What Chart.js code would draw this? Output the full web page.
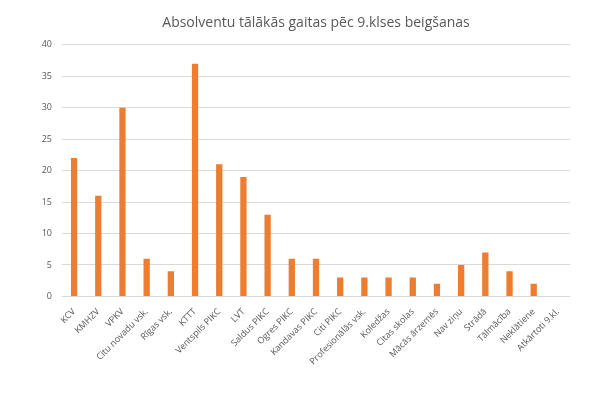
<!DOCTYPE html>
<html>
<head>
<meta charset="utf-8">
<script src="https://cdn.jsdelivr.net/npm/chart.js@4"></script>
<style>
  html, body { margin: 0; padding: 0; background: #fff; }
  #wrap { width: 600px; height: 401px; }
</style>
</head>
<body>
<div id="wrap"><canvas id="gaitas"></canvas></div>
<script>
const categories = ['KCV', 'KMHZV', 'VPKV', 'Citu novadu vsk.', 'Rīgas vsk.', 'KTTT', 'Ventspils PIKC', 'LVT',
  'Saldus PIKC', 'Ogres PIKC', 'Kandavas PIKC', 'Citi PIKC', 'Profesionālās vsk.', 'Koledžas', 'Citas skolas',
  'Mācās ārzemēs', 'Nav ziņu', 'Strādā', 'Tālmācība', 'Neklātiene', 'Atkārtoti 9.kl.'];
const absolventi = [22, 16, 30, 6, 4, 37, 21, 19, 13, 6, 6, 3, 3, 3, 3, 2, 5, 7, 4, 2, 0];
const yTicks = [0, 5, 10, 15, 20, 25, 30, 35, 40];

const grey = '#595959';

new Chart(document.getElementById('gaitas'), {
  type: 'bar',
  data: {
    labels: categories,
    datasets: [{
      data: absolventi,
      backgroundColor: '#ed7d31',
      categoryPercentage: 1,
      barPercentage: 0.26
    }]
  },
  options: {
    responsive: true,
    maintainAspectRatio: false,
    animation: false,
    layout: { padding: { top: 6, right: 30, left: 10, bottom: 32 } },
    plugins: {
      legend: { display: false },
      tooltip: { enabled: false },
      title: {
        display: true,
        fullSize: false, // centre over the plot, not the whole canvas
        text: 'Absolventu tālākās gaitas pēc 9.klses beigšanas',
        color: grey,
        font: { family: 'Open Sans', size: 14, weight: 'normal' },
        padding: { top: 9, bottom: 13 }
      }
    },
    scales: {
      x: {
        grid: { display: false },
        border: { display: false },
        ticks: {
          color: grey,
          font: { family: 'Open Sans', size: 9 },
          minRotation: 45,
          maxRotation: 45,
          autoSkip: false,
          padding: 2
        }
      },
      y: {
        min: 0,
        max: 40,
        afterBuildTicks: s => { s.ticks = yTicks.map(v => ({ value: v })); },
        afterFit: s => { s.width = 52; },
        grid: { color: '#d9d9d9', drawTicks: false },
        border: { display: false },
        ticks: {
          color: grey,
          font: { family: 'Open Sans', size: 9 },
          padding: 10
        }
      }
    }
  }
});
</script>
</body>
</html>
